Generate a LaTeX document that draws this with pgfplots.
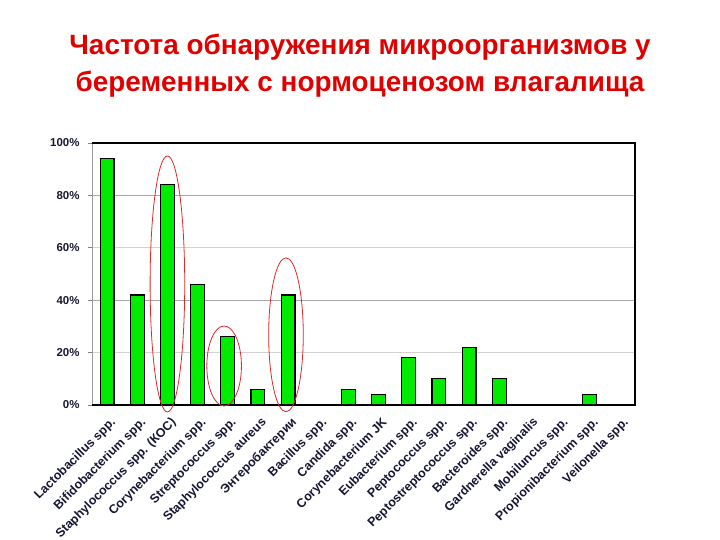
\documentclass[border=0pt]{standalone}
\usepackage{fontspec}
\setmainfont{Liberation Sans}
\usepackage{pgfplots}
\pgfplotsset{compat=1.18}
\definecolor{barg}{RGB}{0,235,0}
\definecolor{lab}{RGB}{22,22,52}
\definecolor{ttl}{RGB}{225,0,0}
\definecolor{ell}{RGB}{220,40,40}
\begin{document}
\begin{tikzpicture}
\path[use as bounding box] (0bp,0bp) rectangle (720bp,540bp);
\node[font=\fontsize{28}{37}\selectfont\bfseries, text=ttl, align=center] at (360bp,474bp) {Частота обнаружения микроорганизмов у\\беременных с нормоценозом влагалища};
\begin{axis}[at={(92bp,135bp)}, anchor=south west, width=543bp, height=262bp, scale only axis,
 xmin=-0.5, xmax=17.5, ymin=0, ymax=100,
 axis line style={draw=none},
 ytick={0,20,...,100}, yticklabels={0\%,20\%,40\%,60\%,80\%,100\%},
 xtick={0,...,17},
 xticklabels={Lactobacillus spp.,Bifidobacterium spp.,Staphylococcus spp. (КОС),Corynebacterium spp.,Streptococcus spp.,Staphylococcus aureus,Энтеробактерии,Bacillus spp.,Candida spp.,Corynebacterium JK,Eubacterium spp.,Peptococcus spp.,Peptostreptococcus spp.,Bacteroides spp.,Gardnerella vaginalis,Mobiluncus spp.,Propionibacterium spp.,Veilonella spp.},
 x tick style={draw=none},
 ytick pos=left, tick align=outside, major tick length=4bp,
 y tick style={gray, line width=0.8pt},
 xticklabel style={rotate=45, anchor=east, font=\fontsize{12.5}{14}\selectfont\bfseries, text=lab, xshift=0bp, yshift=-13bp},
 yticklabel style={font=\fontsize{11.5}{14}\selectfont\bfseries, text=lab, xshift=-5bp},
 clip=false,
]
\draw[gray!35, line width=0.9pt] (axis cs:-0.5,20) -- (axis cs:17.5,20);
\draw[gray!35, line width=0.9pt] (axis cs:-0.5,60) -- (axis cs:17.5,60);
\draw[gray!70, line width=1.3pt] (axis cs:-0.5,40) -- (axis cs:17.5,40);
\draw[gray!70, line width=1.3pt] (axis cs:-0.5,80) -- (axis cs:17.5,80);
\addplot[ybar, bar width=0.46, fill=barg, draw=black, line width=1.1pt] coordinates {
(0,94) (1,42) (2,84) (3,46) (4,26) (5,6) (6,42) (7,0) (8,6) (9,4) (10,18) (11,10) (12,22) (13,10) (14,0) (15,0) (16,4) (17,0)};
\draw[gray!80, line width=0.9pt] (axis cs:-0.5,0) -- (axis cs:-0.5,100);
\draw[black, line width=1.3pt] (axis cs:-0.5,100) -- (axis cs:17.5,100) -- (axis cs:17.5,0) -- (axis cs:-0.5,0);
\draw[ell, line width=0.8pt] (axis cs:2,46.2) ellipse [x radius=17.3bp, y radius=128bp];
\draw[ell, line width=0.8pt] (axis cs:3.88,14.9) ellipse [x radius=17.3bp, y radius=40bp];
\draw[ell, line width=0.8pt] (axis cs:5.93,26.8) ellipse [x radius=17.3bp, y radius=77bp];
\end{axis}
\end{tikzpicture}
\end{document}
